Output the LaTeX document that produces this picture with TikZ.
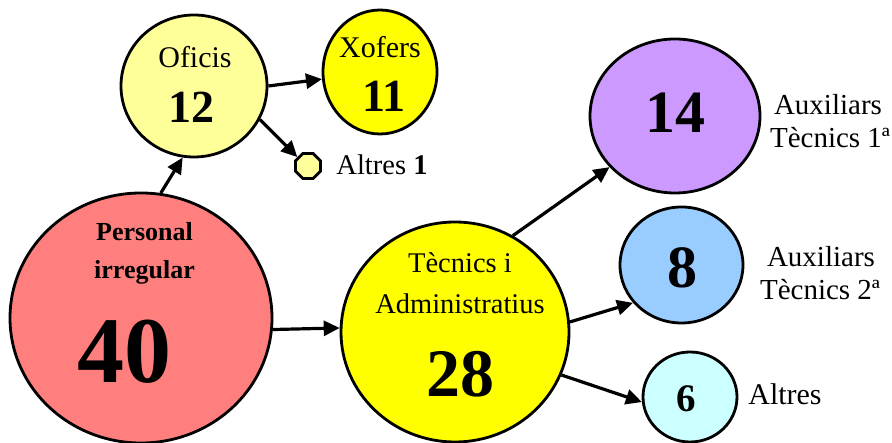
\documentclass[tikz,border=0pt]{standalone}
\usepackage{fontspec}
\setmainfont{Liberation Serif}
\usetikzlibrary{shapes.geometric,arrows.meta}
\definecolor{cred}{HTML}{FF7F7F}
\definecolor{clight}{HTML}{FFFF99}
\definecolor{cyel}{HTML}{FFFF00}
\definecolor{cpur}{HTML}{CC99FF}
\definecolor{cblue}{HTML}{99CCFF}
\definecolor{ccyan}{HTML}{CCFFFF}
\tikzset{
  bub/.style={ellipse, draw=black, line width=2.8pt, inner sep=0pt},
  txt/.style={anchor=base, inner sep=0pt, font=\fontsize{30}{36}\selectfont},
  bnum/.style={anchor=base, inner sep=0pt},
  arr/.style={line width=3.2pt, -{Triangle[length=16pt,width=15pt]}},
}
\begin{document}
\begin{tikzpicture}[x=1pt,y=1pt]
\useasboundingbox (0,0) rectangle (892,443);
% bubbles
\node[bub, fill=cred, minimum width=262pt, minimum height=250pt] (red) at (141,125) {};
\node[bub, fill=cyel, minimum width=228pt, minimum height=220pt] (tec) at (455,111) {};
\node[bub, fill=clight, minimum width=146pt, minimum height=142pt] (ofi) at (194,357) {};
\node[bub, fill=cyel, minimum width=114pt, minimum height=124pt] (xof) at (380,371) {};
\node[bub, fill=cpur, minimum width=170pt, minimum height=154pt] (pur) at (675,327) {};
\node[bub, fill=cblue, minimum width=123pt, minimum height=116pt] (blu) at (681.5,178) {};
\node[bub, fill=ccyan, minimum width=94pt, minimum height=90pt] (cya) at (690,46) {};
\node[regular polygon, regular polygon sides=8, draw=black, line width=2.8pt, fill=clight, minimum size=27pt, inner sep=0pt] (oct) at (308,277) {};
% texts
\node[bnum, font=\fontsize{26}{30}\selectfont\bfseries] (tper) at (144.5,202) {Personal};
\node[bnum, font=\fontsize{26}{30}\selectfont\bfseries] (tirr) at (144.5,164) {irregular};
\node[bnum, font=\fontsize{94}{100}\selectfont\bfseries] (t40) at (124,60) {40};
\node[txt, font=\fontsize{28.5}{34}\selectfont] (ttec) at (460,170) {Tècnics i};
\node[txt, font=\fontsize{28.5}{34}\selectfont] (tadm) at (460,129) {Administratius};
\node[bnum, font=\fontsize{68}{72}\selectfont\bfseries] (t28) at (460,46) {28};
\node[txt] (tofi) at (195,375) {Oficis};
\node[bnum, font=\fontsize{46}{50}\selectfont\bfseries] (t12) at (191,320) {12};
\node[txt] (txof) at (380,385) {Xofers};
\node[bnum, font=\fontsize{46}{50}\selectfont\bfseries] (t11) at (384,331) {11};
\node[txt, font=\fontsize{28.5}{34}\selectfont] (talt1) at (382,268) {Altres \textbf{1}};
\node[bnum, font=\fontsize{60}{64}\selectfont\bfseries] (t14) at (675,310) {14};
\node[bnum, font=\fontsize{60}{64}\selectfont\bfseries] (t8) at (682,155) {8};
\node[bnum, font=\fontsize{39}{44}\selectfont\bfseries] (t6) at (686,31) {6};
\node[txt, font=\fontsize{29}{34}\selectfont] (la1) at (828,328) {Auxiliars};
\node[txt, font=\fontsize{29}{34}\selectfont] (lt1) at (830,295) {Tècnics 1ª};
\node[txt, font=\fontsize{29}{34}\selectfont] (la2) at (821,176) {Auxiliars};
\node[txt, font=\fontsize{29}{34}\selectfont] (lt2) at (820,143) {Tècnics 2ª};
\node[txt] (lalt) at (785,38) {Altres};
% arrows
\draw[arr] (red.81) -- (ofi.-99);
\draw[arr] (red.-5) -- (tec.178.5);
\draw[arr] (ofi.0) -- (xof.187);
\draw[arr] (ofi.-27) -- (oct.140);
\draw[arr] (tec.59.5) -- (pur.218);
\draw[arr] (tec.5.4) -- (blu.218);
\draw[arr] (tec.-22.4) -- (cya.186);
\end{tikzpicture}
\end{document}
